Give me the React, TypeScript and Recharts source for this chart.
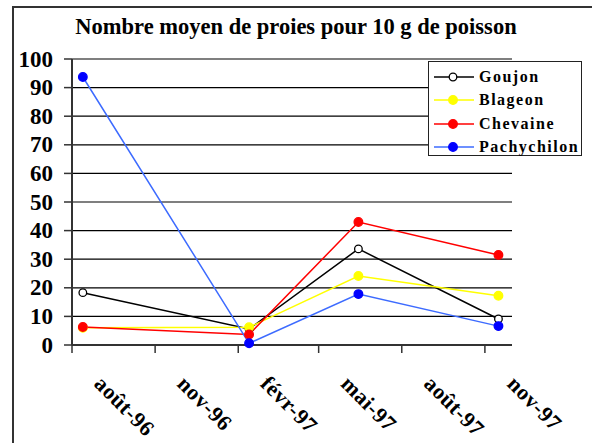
import { CartesianGrid, Line, LineChart, XAxis, YAxis } from 'recharts'

// sampling dates and mean prey counts per 10 g of fish
const SAMPLE_DATES = ['1996-08-13', '1997-02-13', '1997-06-14', '1997-11-16']
const GOUJON = [18.3, 5.6, 33.6, 9.1]
const BLAGEON = [6.0, 6.2, 24.1, 17.2]
const CHEVAINE = [6.3, 3.7, 43.0, 31.5]
const PACHYCHILON = [93.7, 0.6, 17.8, 6.6]

const TICK_DATES = ['1996-08-01', '1996-11-01', '1997-02-01', '1997-05-01', '1997-08-01', '1997-11-01']
const TICK_LABELS = ['août-96', 'nov-96', 'févr-97', 'mai-97', 'août-97', 'nov-97']
const AXIS_END = '1997-12-01'
const Y_TICKS = [0, 10, 20, 30, 40, 50, 60, 70, 80, 90, 100]

const SERIES = [
  { key: 'Goujon', values: GOUJON, line: '#000000', fill: '#ffffff', stroke: '#000000', r: 3.8 },
  { key: 'Blageon', values: BLAGEON, line: '#ffff00', fill: '#ffff00', stroke: '#ffff00', r: 4.3 },
  { key: 'Chevaine', values: CHEVAINE, line: '#ff0000', fill: '#ff0000', stroke: '#ff0000', r: 4.3 },
  { key: 'Pachychilon', values: PACHYCHILON, line: '#3d6bff', fill: '#0000ff', stroke: '#0000ff', r: 4.3 },
]

const toTime = (d: string) => new Date(d + 'T00:00:00Z').getTime()

const data = SAMPLE_DATES.map((d, i) => {
  const row: Record<string, number> = { t: toTime(d) }
  for (const s of SERIES) row[s.key] = s.values[i]
  return row
})

const xTicks = TICK_DATES.map(toTime)
const FONT = '"Liberation Serif", "Times New Roman", serif'

function YTick({ x, y, payload }: { x?: number; y?: number; payload?: { value: number } }) {
  return (
    <text
      x={(x ?? 0) - 9}
      y={y}
      textAnchor="end"
      dominantBaseline="central"
      style={{ fontFamily: FONT, fontWeight: 700, fontSize: 23, fill: '#000' }}
    >
      {payload?.value}
    </text>
  )
}

function XTick({ x, y, payload }: { x?: number; y?: number; payload?: { value: number } }) {
  const idx = xTicks.indexOf(payload?.value ?? -1)
  const ax = (x ?? 0) + 21
  const ay = (y ?? 0) + 30
  return (
    <text
      x={ax}
      y={ay}
      textAnchor="start"
      transform={`rotate(45 ${ax} ${ay})`}
      style={{ fontFamily: FONT, fontWeight: 700, fontSize: 22, fill: '#000', letterSpacing: 0.5 }}
    >
      {TICK_LABELS[idx] ?? ''}
    </text>
  )
}

function LegendBox() {
  return (
    <div
      style={{
        position: 'absolute',
        left: 428,
        top: 61,
        width: 152,
        height: 93,
        border: '1.5px solid #222',
        background: '#fff',
      }}
    >
      {SERIES.map((s, i) => (
        <div
          key={s.key}
          style={{ position: 'absolute', left: 0, top: 4 + i * 23.3, height: 22, display: 'flex', alignItems: 'center' }}
        >
          <svg width={46} height={22} style={{ display: 'block' }}>
            <line x1={5} x2={45} y1={11} y2={11} stroke={s.line} strokeWidth={1.5} />
            <circle cx={24} cy={11} r={s.r} fill={s.fill} stroke={s.stroke} strokeWidth={1.3} />
          </svg>
          <span
            style={{
              marginLeft: 4,
              fontFamily: FONT,
              fontWeight: 700,
              fontSize: 16,
              letterSpacing: 1.5,
              color: '#000',
              whiteSpace: 'nowrap',
            }}
          >
            {s.key}
          </span>
        </div>
      ))}
    </div>
  )
}

export default function App() {
  return (
    <div
      style={{
        position: 'absolute',
        left: 0,
        top: 0,
        width: 592,
        height: 443,
        overflow: 'hidden',
        background: '#fff',
      }}
    >
      <div
        style={{
          position: 'absolute',
          left: 12,
          top: 6,
          width: 640,
          height: 500,
          borderTop: '2px solid #333',
          borderLeft: '2px solid #333',
        }}
      />
      <div
        style={{
          position: 'absolute',
          left: 0,
          top: 14,
          width: 592,
          textAlign: 'center',
          fontFamily: FONT,
          fontWeight: 700,
          fontSize: 22.5,
          color: '#000',
          whiteSpace: 'nowrap',
        }}
      >
        Nombre moyen de proies pour 10 g de poisson
      </div>
      <div style={{ position: 'absolute', left: 0, top: 0 }}>
        <LineChart width={592} height={443} data={data} margin={{ top: 59, right: 80, bottom: 38, left: 12 }}>
          <CartesianGrid horizontal vertical={false} stroke="#000" strokeWidth={1.2} />
          <XAxis
            dataKey="t"
            type="number"
            scale="linear"
            domain={[toTime(TICK_DATES[0]), toTime(AXIS_END)]}
            ticks={xTicks}
            interval={0}
            height={60}
            tickSize={8}
            axisLine={{ stroke: '#333', strokeWidth: 2 }}
            tickLine={{ stroke: '#333', strokeWidth: 1.5 }}
            tick={<XTick />}
          />
          <YAxis
            type="number"
            domain={[0, 100]}
            ticks={Y_TICKS}
            interval={0}
            width={60}
            tickSize={8}
            axisLine={{ stroke: '#333', strokeWidth: 2 }}
            tickLine={{ stroke: '#333', strokeWidth: 1.5 }}
            tick={<YTick />}
          />
          {SERIES.map((s) => (
            <Line
              key={s.key}
              type="linear"
              dataKey={s.key}
              stroke={s.line}
              strokeWidth={1.5}
              dot={{ r: s.r, fill: s.fill, stroke: s.stroke, strokeWidth: 1.3 }}
              activeDot={false}
              isAnimationActive={false}
            />
          ))}
        </LineChart>
      </div>
      <LegendBox />
    </div>
  )
}
